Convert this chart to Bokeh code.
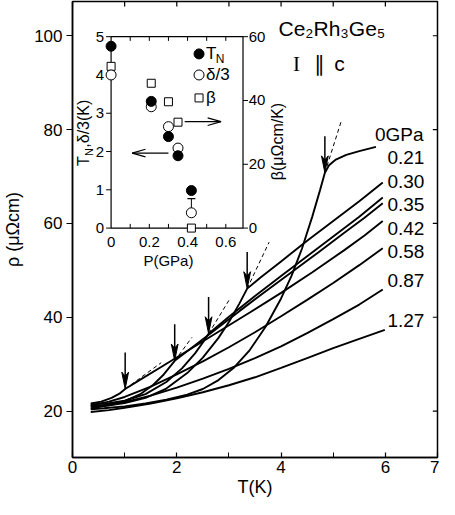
import math
from bokeh.plotting import figure
from bokeh.models import Range1d, FixedTicker
from bokeh.core.properties import value
from bokeh.embed import file_html
from bokeh.resources import INLINE

# ---------------- data: main panel (rho vs T) ----------------
pressure_labels = ["0GPa", "0.21", "0.30", "0.35", "0.42", "0.58", "0.87", "1.27"]

T_p000 = [0.35, 0.6, 1.0, 1.4, 1.8, 2.2, 2.5, 2.8, 3.1, 3.4, 3.7, 4.0, 4.2, 4.4, 4.6, 4.75, 4.84, 4.92, 5.05, 5.25, 5.5, 5.82]
rho_p000 = [20.4, 20.6, 21.0, 21.6, 22.4, 23.5, 24.7, 26.6, 29.3, 33.0, 37.9, 44.0, 48.8, 54.6, 61.5, 67.2, 70.8, 72.4, 73.6, 74.6, 75.4, 76.3]

T_p021 = [0.35, 0.7, 1.0, 1.4, 1.8, 2.2, 2.5, 2.8, 3.0, 3.2, 3.35, 3.6, 4.0, 4.5, 5.0, 5.5, 5.95]
rho_p021 = [21.0, 21.2, 21.7, 22.8, 24.8, 28.1, 31.4, 35.6, 39.0, 42.9, 46.1, 48.4, 51.9, 56.3, 60.5, 64.7, 68.7]

T_p030 = [0.35, 0.7, 1.0, 1.4, 1.8, 2.1, 2.35, 2.5, 2.61, 3.0, 3.5, 4.0, 4.5, 5.0, 5.5, 5.95]
rho_p030 = [21.4, 21.7, 22.2, 23.6, 26.2, 29.1, 32.3, 34.6, 36.5, 40.1, 44.5, 48.8, 53.0, 57.2, 61.4, 65.5]

T_p035 = [0.35, 0.7, 1.0, 1.3, 1.55, 1.75, 1.96, 2.3, 2.7, 3.2, 3.7, 4.2, 4.7, 5.2, 5.6, 5.95]
rho_p035 = [21.0, 21.4, 22.1, 23.6, 25.6, 27.8, 30.7, 33.6, 37.0, 41.3, 45.5, 49.6, 53.7, 57.9, 61.2, 64.3]

T_p042 = [0.35, 0.55, 0.75, 0.9, 1.01, 1.3, 1.7, 2.2, 2.8, 3.4, 4.0, 4.6, 5.2, 5.6, 5.95]
rho_p042 = [21.6, 22.0, 22.8, 23.7, 24.7, 26.7, 29.4, 32.8, 36.9, 41.0, 45.2, 49.6, 54.2, 57.4, 60.5]

T_p058 = [0.35, 0.7, 1.0, 1.5, 2.0, 2.5, 3.0, 3.5, 4.0, 4.5, 5.0, 5.5, 5.95]
rho_p058 = [21.2, 22.0, 23.0, 25.2, 27.8, 30.6, 33.6, 36.8, 40.2, 43.7, 47.3, 51.1, 54.7]

T_p087 = [0.35, 0.7, 1.0, 1.5, 2.0, 2.5, 3.0, 3.5, 4.0, 4.5, 5.0, 5.5, 5.95]
rho_p087 = [20.6, 21.2, 21.9, 23.3, 25.0, 26.9, 29.0, 31.3, 33.8, 36.6, 39.6, 42.7, 45.9]

T_p127 = [0.35, 0.7, 1.0, 1.5, 2.0, 2.5, 3.0, 3.5, 4.0, 4.5, 5.0, 5.5, 5.99]
rho_p127 = [19.8, 20.2, 20.7, 21.6, 22.7, 24.0, 25.5, 27.2, 29.2, 31.3, 33.4, 35.4, 37.3]

# T_N arrows (tip on curve) and dashed extrapolations
arrow_T = [4.84, 3.35, 2.61, 1.96, 1.01]
arrow_rho = [70.8, 46.1, 36.5, 30.7, 24.7]
dash_T_end = [5.16, 3.77, 3.00, 2.29, 1.70]
dash_rho_end = [82.0, 56.0, 43.6, 35.7, 30.3]

x_ticks = [0, 2, 4, 6, 7]
x_minor = [1, 3, 5]
y_ticks = [20, 40, 60, 80, 100]

# ---------------- data: inset ----------------
P_TN = [0.0, 0.21, 0.30, 0.35, 0.42]
TN_vals = [4.75, 3.31, 2.39, 1.89, 0.98]
P_delta = [0.0, 0.21, 0.30, 0.35, 0.42]
delta3_vals = [4.00, 3.17, 2.65, 2.09, 0.40]
P_err = [0.42]
delta3_err_low = [0.40]
delta3_err_high = [0.77]
P_beta = [0.0, 0.21, 0.30, 0.35, 0.42]
beta_vals = [50.7, 45.4, 39.6, 33.2, 0.0]

inset_P_ticks = [0.1, 0.2, 0.3, 0.4, 0.5, 0.6]
inset_P_label_vals = [0.0, 0.2, 0.4, 0.6]
inset_P_labels = ["0", "0.2", "0.4", "0.6"]
inset_Y_ticks = [0, 1, 2, 3, 4, 5]
inset_B_ticks = [0, 20, 40, 60]

# ---------------- layout / style constants ----------------
FONT = "Liberation Sans"
X0, X1 = 0, 7
Y0, Y1 = 10.1, 107.3
INSET_T = (0.74, 3.27)     # main-T position of inset P = 0 and P = P_MAX
INSET_R = (59.0, 99.8)     # main-rho position of inset y = 0 and y = Y_MAX
P_MAX, Y_MAX, B_MAX = 0.69, 5.0, 60.0

p = figure(width=439, height=499, x_range=Range1d(X0, X1), y_range=Range1d(Y0, Y1),
           output_backend="svg", toolbar_location=None,
           min_border_left=65, min_border_right=2, min_border_top=1, min_border_bottom=40)
p.xgrid.visible = False
p.ygrid.visible = False
p.outline_line_color = "black"
p.outline_line_width = 1.5
p.background_fill_color = "white"
p.border_fill_color = "white"

xa = p.xaxis[0]
xa.ticker = FixedTicker(ticks=x_ticks, minor_ticks=x_minor)
xa.major_tick_in = 5
xa.major_tick_out = 0
xa.minor_tick_in = 5
xa.minor_tick_out = 0
xa.axis_label = "T(K)"
ya = p.yaxis[0]
ya.ticker = FixedTicker(ticks=y_ticks)
ya.major_tick_in = 0
ya.major_tick_out = 6
ya.minor_tick_in = 0
ya.minor_tick_out = 0
ya.axis_label = "ρ (μΩcm)"
for ax in (xa, ya):
    ax.axis_line_width = 1.5
    ax.axis_line_color = "black"
    ax.major_tick_line_color = "black"
    ax.minor_tick_line_color = "black"
    ax.major_tick_line_width = 1.2
    ax.major_label_text_font = FONT
    ax.major_label_text_font_size = "17px"
    ax.major_label_text_color = "black"
    ax.axis_label_text_font = FONT
    ax.axis_label_text_font_size = "18px"
    ax.axis_label_text_font_style = "normal"
    ax.axis_label_text_color = "black"
xa.major_label_standoff = 3
xa.axis_label_standoff = 1
ya.major_label_standoff = 4
ya.axis_label_standoff = 8

# mirrored inward ticks on the right and top edges of the frame
RT_T, TT_R = 0.09, 1.05
p.segment(x0=[X1] * len(y_ticks), y0=y_ticks, x1=[X1 - RT_T] * len(y_ticks), y1=y_ticks,
          line_color="black", line_width=1.2)
top_ticks = x_ticks[:-1] + x_minor
p.segment(x0=top_ticks, y0=[Y1] * len(top_ticks), x1=top_ticks, y1=[Y1 - TT_R] * len(top_ticks),
          line_color="black", line_width=1.2)

# inset coordinate systems (library ranges mapped so the inset box sits in the frame)
sP = P_MAX / (INSET_T[1] - INSET_T[0])
sY = Y_MAX / (INSET_R[1] - INSET_R[0])
p.extra_x_ranges = {"P": Range1d((X0 - INSET_T[0]) * sP, (X1 - INSET_T[0]) * sP)}
p.extra_y_ranges = {"Y": Range1d((Y0 - INSET_R[0]) * sY, (Y1 - INSET_R[0]) * sY),
                    "B": Range1d((Y0 - INSET_R[0]) * sY * B_MAX / Y_MAX,
                                 (Y1 - INSET_R[0]) * sY * B_MAX / Y_MAX)}


def txt(x, y, s, size, align="left", baseline="middle", angle=0.0, font=FONT, xr="default", yr="default"):
    p.text(x=x, y=y, text=s, text_font=value(font), text_font_size=value(f"{size}px"),
           text_align=align, text_baseline=baseline, angle=angle, text_color="black",
           x_range_name=xr, y_range_name=yr)


# ---------------- main curves ----------------
curves = [(T_p000, rho_p000), (T_p021, rho_p021), (T_p030, rho_p030), (T_p035, rho_p035),
          (T_p042, rho_p042), (T_p058, rho_p058), (T_p087, rho_p087), (T_p127, rho_p127)]
for T, r in curves:
    p.line(T, r, line_color="black", line_width=1.9)

p.segment(x0=arrow_T, y0=arrow_rho, x1=dash_T_end, y1=dash_rho_end,
          line_color="black", line_width=1, line_dash="4 3")

ARROW_LEN, HEAD_LEN, HEAD_HW = 7.8, 3.6, 0.065
p.segment(x0=arrow_T, y0=[r + ARROW_LEN for r in arrow_rho], x1=arrow_T,
          y1=[r + HEAD_LEN * 0.7 for r in arrow_rho], line_color="black", line_width=1.5)
p.patches(xs=[[t, t - HEAD_HW, t, t + HEAD_HW] for t in arrow_T],
          ys=[[r, r + HEAD_LEN, r + HEAD_LEN * 0.75, r + HEAD_LEN] for r in arrow_rho],
          fill_color="black", line_color="black", line_width=1)

# pressure labels
lab_x = [5.80, 6.04, 6.04, 6.04, 6.04, 6.04, 6.04, 6.04]
lab_y = [79.0, 74.0, 69.0, 64.0, 59.0, 54.0, 47.9, 39.3]
txt(lab_x, lab_y, pressure_labels, 19)

# compound / orientation
txt([3.95], [101.5], ["Ce₂Rh₃Ge₅"], 21)
txt([4.23], [94.0], ["I"], 21, font="Liberation Serif")
txt([4.73], [94.0], ["∥"], 21, align="center", font="DejaVu Sans")
txt([5.02], [94.0], ["c"], 21)

# ---------------- inset ----------------
p.quad(left=[0], right=[P_MAX], bottom=[0], top=[Y_MAX], fill_color="white", line_color="black",
       line_width=1.2, x_range_name="P", y_range_name="Y")
TK_Y, TK_P = 0.11, 0.026
p.segment(x0=inset_P_ticks, y0=[0] * len(inset_P_ticks), x1=inset_P_ticks, y1=[TK_Y] * len(inset_P_ticks),
          line_color="black", line_width=1, x_range_name="P", y_range_name="Y")
p.segment(x0=inset_P_ticks, y0=[Y_MAX] * len(inset_P_ticks), x1=inset_P_ticks,
          y1=[Y_MAX - TK_Y] * len(inset_P_ticks), line_color="black", line_width=1,
          x_range_name="P", y_range_name="Y")
p.segment(x0=[0] * len(inset_Y_ticks), y0=inset_Y_ticks, x1=[-TK_P] * len(inset_Y_ticks), y1=inset_Y_ticks,
          line_color="black", line_width=1, x_range_name="P", y_range_name="Y")
p.segment(x0=[P_MAX] * len(inset_B_ticks), y0=inset_B_ticks, x1=[P_MAX + TK_P] * len(inset_B_ticks),
          y1=inset_B_ticks, line_color="black", line_width=1, x_range_name="P", y_range_name="B")

txt([-0.036] * len(inset_Y_ticks), inset_Y_ticks, [str(v) for v in inset_Y_ticks], 15,
    align="right", xr="P", yr="Y")
txt([P_MAX + 0.03] * len(inset_B_ticks), inset_B_ticks, [str(v) for v in inset_B_ticks], 15,
    align="left", xr="P", yr="B")
txt(inset_P_label_vals, [-0.24] * len(inset_P_label_vals), inset_P_labels, 15,
    align="center", baseline="top", xr="P", yr="Y")
txt([0.30], [-0.62], ["P(GPa)"], 15, align="center", baseline="top", xr="P", yr="Y")

# inset axis titles
txt([-0.1425], [1.62], ["T"], 16, angle=math.pi / 2, xr="P", yr="Y")
txt([-0.117], [1.88], ["N"], 11, angle=math.pi / 2, xr="P", yr="Y")
txt([-0.1425], [2.10], [",δ/3(K)"], 16, angle=math.pi / 2, xr="P", yr="Y")
txt([0.87], [2.26], ["β(μΩcm/K)"], 16, align="center", angle=math.pi / 2, xr="P", yr="Y")

# inset data
p.scatter(P_beta, beta_vals, marker="square", size=8, fill_color="white", line_color="black",
          line_width=1, x_range_name="P", y_range_name="B")
p.segment(x0=P_err, y0=delta3_err_low, x1=P_err, y1=delta3_err_high, line_color="black",
          line_width=1, x_range_name="P", y_range_name="Y")
p.scatter(P_err, delta3_err_high, marker="dash", size=8, line_color="black", line_width=1.2,
          x_range_name="P", y_range_name="Y")
p.scatter(P_delta, delta3_vals, marker="circle", size=10, fill_color="white", line_color="black",
          line_width=1, x_range_name="P", y_range_name="Y")
p.scatter(P_TN, TN_vals, marker="circle", size=10, fill_color="black", line_color="black",
          x_range_name="P", y_range_name="Y")

# inset legend
LEG_P, LEG_TP = 0.46, 0.497
LEG_Y = [4.55, 4.0, 3.40]
p.scatter([LEG_P], [LEG_Y[0]], marker="circle", size=10, fill_color="black", line_color="black",
          x_range_name="P", y_range_name="Y")
p.scatter([LEG_P], [LEG_Y[1]], marker="circle", size=10, fill_color="white", line_color="black",
          x_range_name="P", y_range_name="Y")
p.scatter([LEG_P], [LEG_Y[2]], marker="square", size=8, fill_color="white", line_color="black",
          x_range_name="P", y_range_name="Y")
txt([LEG_TP], [LEG_Y[0]], ["T"], 17, xr="P", yr="Y")
txt([LEG_TP + 0.05], [LEG_Y[0] - 0.13], ["N"], 12, xr="P", yr="Y")
txt([LEG_TP], [LEG_Y[1]], ["δ/3"], 17, xr="P", yr="Y")
txt([LEG_TP], [LEG_Y[2]], ["β"], 17, xr="P", yr="Y")

# inset arrows (open heads)
arr_x0 = [0.30, 0.385]
arr_x1 = [0.11, 0.575]
arr_y = [1.96, 2.78]
HL_P, HW_Y = 0.07, 0.10
p.segment(x0=arr_x0, y0=arr_y, x1=arr_x1, y1=arr_y, line_color="black", line_width=1.2,
          x_range_name="P", y_range_name="Y")
heads_x, heads_y = [], []
for x0, x1, y in zip(arr_x0, arr_x1, arr_y):
    d = 1 if x1 > x0 else -1
    heads_x.append([x1 - d * HL_P, x1, x1 - d * HL_P])
    heads_y.append([y + HW_Y, y, y - HW_Y])
p.multi_line(xs=heads_x, ys=heads_y, line_color="black", line_width=1.2,
             x_range_name="P", y_range_name="Y")

open("out.html", "w").write(file_html(p, INLINE))
